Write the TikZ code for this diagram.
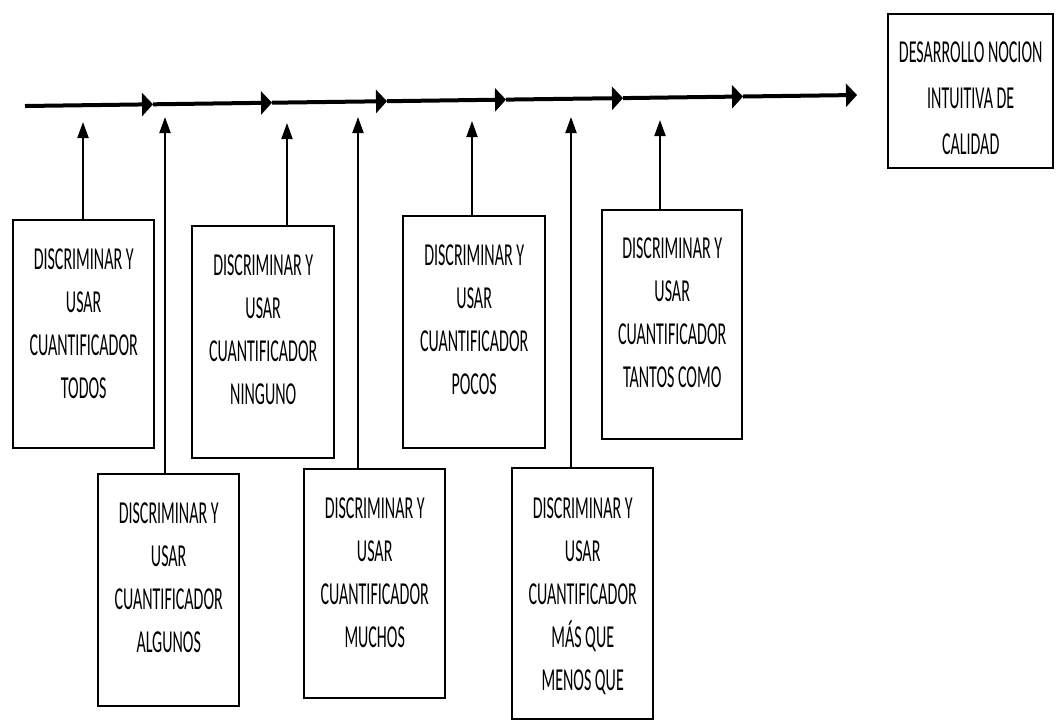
\documentclass[tikz,border=0pt]{standalone}
\usepackage{fontspec}
\newfontfamily\narrowfont[FakeStretch=0.5]{Carlito}
\usetikzlibrary{arrows.meta}
\begin{document}
\begin{tikzpicture}[x=1pt,y=-1pt,
  qbox/.style={draw, line width=2.4pt, anchor=north west, inner sep=0pt},
  qtext/.style={font=\narrowfont\fontsize{32}{43}\selectfont, align=center, inner sep=0pt, anchor=north},
  ftext/.style={font=\narrowfont\fontsize{32}{46}\selectfont, align=center, inner sep=0pt, anchor=north},
  mainseg/.style={line width=4pt, -{Triangle[length=11pt,width=23pt]}},
  uparr/.style={line width=2pt, -{Triangle[length=16pt,width=11pt]}}]
\useasboundingbox (0,0) rectangle (1056,724);

% main time line
\coordinate (p0) at (25,106);
\coordinate (p1) at (153,104.3);
\coordinate (p2) at (272,102.7);
\coordinate (p3) at (387,101.2);
\coordinate (p4) at (506,99.6);
\coordinate (p5) at (623,98.1);
\coordinate (p6) at (743,96.5);
\coordinate (p7) at (857,95);
\draw[mainseg] (p0) -- (p1);
\draw[mainseg] (p1) -- (p2);
\draw[mainseg] (p2) -- (p3);
\draw[mainseg] (p3) -- (p4);
\draw[mainseg] (p4) -- (p5);
\draw[mainseg] (p5) -- (p6);
\draw[mainseg] (p6) -- (p7);

% boxes
\node[qbox, minimum width=141pt, minimum height=228pt] (b1) at (12,219) {};
\node[qtext] (t1) at ([yshift=-30pt]b1.north) {DISCRIMINAR Y\\USAR\\CUANTIFICADOR\\TODOS};

\node[qbox, minimum width=141pt, minimum height=232pt] (b2) at (97,473) {};
\node[qtext] (t2) at ([yshift=-30pt]b2.north) {DISCRIMINAR Y\\USAR\\CUANTIFICADOR\\ALGUNOS};

\node[qbox, minimum width=142pt, minimum height=232pt] (b3) at (191,225) {};
\node[qtext] (t3) at ([yshift=-30pt]b3.north) {DISCRIMINAR Y\\USAR\\CUANTIFICADOR\\NINGUNO};

\node[qbox, minimum width=141pt, minimum height=229pt] (b4) at (303,468) {};
\node[qtext] (t4) at ([yshift=-30pt]b4.north) {DISCRIMINAR Y\\USAR\\CUANTIFICADOR\\MUCHOS};

\node[qbox, minimum width=142pt, minimum height=232pt] (b5) at (402,215) {};
\node[qtext] (t5) at ([yshift=-30pt]b5.north) {DISCRIMINAR Y\\USAR\\CUANTIFICADOR\\POCOS};

\node[qbox, minimum width=141pt, minimum height=251pt] (b6) at (511,467) {};
\node[qtext] (t6) at ([yshift=-31pt]b6.north) {DISCRIMINAR Y\\USAR\\CUANTIFICADOR\\MÁS QUE\\MENOS QUE};

\node[qbox, minimum width=140pt, minimum height=229pt] (b7) at (601,209) {};
\node[qtext] (t7) at ([yshift=-29pt]b7.north) {DISCRIMINAR Y\\USAR\\CUANTIFICADOR\\TANTOS COMO};

\node[qbox, minimum width=165pt, minimum height=154pt] (bf) at (887,13) {};
\node[ftext] (tf) at ([yshift=-29pt]bf.north) {DESARROLLO NOCION\\INTUITIVA DE\\CALIDAD};

% upward arrows
\coordinate (e1) at (83,122);
\coordinate (e2) at (165,117);
\coordinate (e3) at (287,123);
\coordinate (e4) at (358,117);
\coordinate (e5) at (472,121);
\coordinate (e6) at (571,117);
\coordinate (e7) at (660,120);
\draw[uparr] (e1 |- b1.north) -- (e1);
\draw[uparr] (e2 |- b2.north) -- (e2);
\draw[uparr] (e3 |- b3.north) -- (e3);
\draw[uparr] (e4 |- b4.north) -- (e4);
\draw[uparr] (e5 |- b5.north) -- (e5);
\draw[uparr] (e6 |- b6.north) -- (e6);
\draw[uparr] (e7 |- b7.north) -- (e7);
\end{tikzpicture}
\end{document}
